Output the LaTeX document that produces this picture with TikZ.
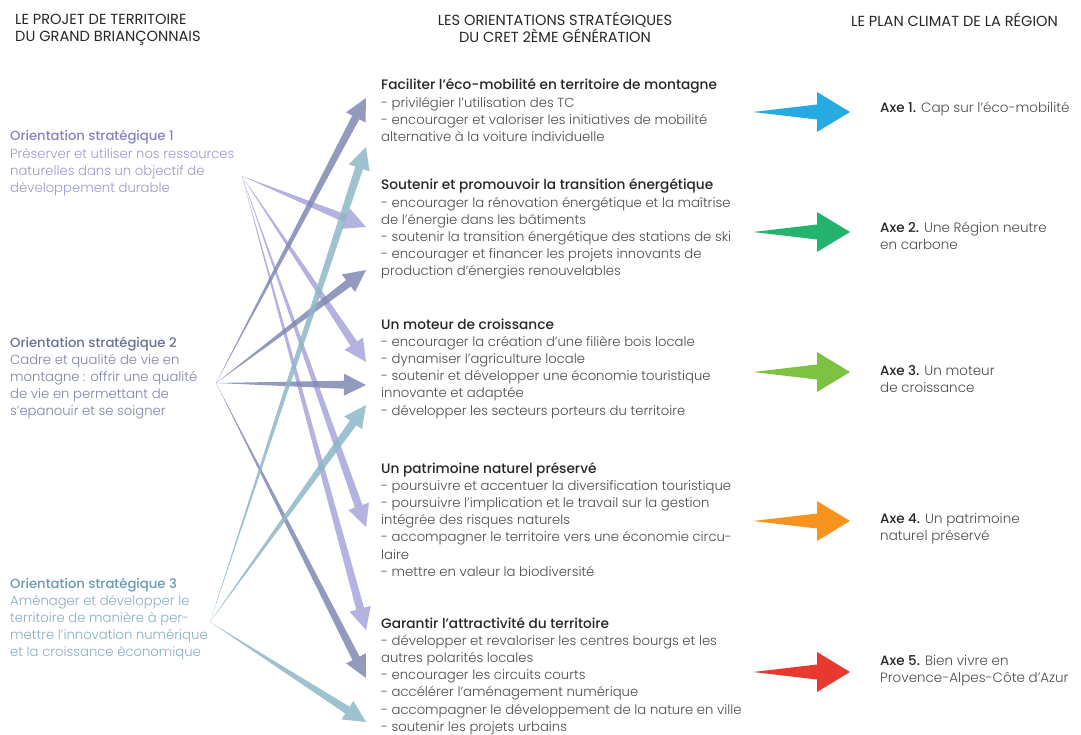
\documentclass[tikz,border=0pt]{standalone}
\usepackage{fontspec}
\setmainfont{Poppins}[UprightFont={* Light}, BoldFont={* Medium}]
\newfontfamily\entete{Poppins}
\usetikzlibrary{calc}

\definecolor{violetO}{HTML}{8682C2}
\definecolor{violetT}{HTML}{9C99CF}
\definecolor{ardoiseO}{HTML}{6A7198}
\definecolor{ardoiseT}{HTML}{7D83A6}
\definecolor{sarcelleO}{HTML}{6A9AB0}
\definecolor{sarcelleT}{HTML}{86AFC1}
\definecolor{flecheA}{HTML}{A7A4D9}
\definecolor{flecheB}{HTML}{7F88B3}
\definecolor{flecheC}{HTML}{8DB7C7}
\definecolor{axeA}{HTML}{27A9E1}
\definecolor{axeB}{HTML}{23B36E}
\definecolor{axeC}{HTML}{7DC242}
\definecolor{axeD}{HTML}{F7931E}
\definecolor{axeE}{HTML}{E8392F}

\tikzset{
  titre/.style={font=\entete\fontsize{14.6}{17}\selectfont, text=black!85, inner sep=0pt},
  bloc/.style={font=\fontsize{13.2}{17.2}\selectfont, text=black!70, align=left, inner sep=0pt, anchor=base west},
  axe/.style={bloc, font=\fontsize{13.5}{17}\selectfont},
}

% bold heading line of a block
\newcommand\tete[1]{\textcolor{black!85}{\fontsize{13.7}{17.2}\selectfont\bfseries #1}}

% tapered arrow: from, to, colour, shaft, head, head length
\newcommand\taper[6]{%
  \coordinate (hb) at ($(#2)!#6!(#1)$);
  \fill[#3] (#1) -- ($(hb)!#4!90:(#2)$) -- ($(hb)!#5!90:(#2)$) -- (#2)
    -- ($(hb)!#5!-90:(#2)$) -- ($(hb)!#4!-90:(#2)$) -- cycle;}

\begin{document}
\begin{tikzpicture}[x=1pt,y=-1pt]
\useasboundingbox (0,0) rectangle (1081,735);

% headers (base anchor = last line)
\node[titre, align=left, anchor=base west] (h1) at (15,42) {LE PROJET DE TERRITOIRE\\DU GRAND BRIANÇONNAIS};
\node[titre, align=center, anchor=base] (h2) at (555,43) {LES ORIENTATIONS STRATÉGIQUES\\DU CRET 2ÈME GÉNÉRATION};
\node[titre, anchor=base west] (h3) at (851,27) {LE PLAN CLIMAT DE LA RÉGION};

% left column
\node[bloc, text=violetT] (o1) at (10,{141+3*17.2}) {\textcolor{violetO}{\textbf{Orientation stratégique 1}}\\Préserver et utiliser nos ressources\\naturelles dans un objectif de\\développement durable};
\node[bloc, text=ardoiseT] (o2) at (10,{347+4*17.2}) {\textcolor{ardoiseO}{\textbf{Orientation stratégique 2}}\\Cadre et qualité de vie en\\montagne : offrir une qualité\\de vie en permettant de\\s’epanouir et se soigner};
\node[bloc, text=sarcelleT] (o3) at (10,{588+4*17.2}) {\textcolor{sarcelleO}{\textbf{Orientation stratégique 3}}\\Aménager et développer le\\territoire de manière à per-\\mettre l’innovation numérique\\et la croissance économique};

% middle column
\node[bloc] (s1) at (381,{90+3*17.2}) {\tete{Faciliter l’éco-mobilité en territoire de montagne}\\- privilégier l’utilisation des TC\\- encourager et valoriser les initiatives de mobilité\\alternative à la voiture individuelle};
\node[bloc] (s2) at (381,{190+5*17.2}) {\tete{Soutenir et promouvoir la transition énergétique}\\- encourager la rénovation énergétique et la maîtrise\\de l’énergie dans les bâtiments\\- soutenir la transition énergétique des stations de ski\\- encourager et financer les projets innovants de\\production d’énergies renouvelables};
\node[bloc] (s3) at (381,{329+5*17.2}) {\tete{Un moteur de croissance}\\- encourager la création d’une filière bois locale\\- dynamiser l’agriculture locale\\- soutenir et développer une économie touristique\\innovante et adaptée\\- développer les secteurs porteurs du territoire};
\node[bloc] (s4) at (381,{473+6*17.2}) {\tete{Un patrimoine naturel préservé}\\- poursuivre et accentuer la diversification touristique\\- poursuivre l’implication et le travail sur la gestion\\intégrée des risques naturels\\- accompagner le territoire vers une économie circu-\\laire\\- mettre en valeur la biodiversité};
\node[bloc] (s5) at (381,{628+6*17.2}) {\tete{Garantir l’attractivité du territoire}\\- développer et revaloriser les centres bourgs et les\\autres polarités locales\\- encourager les circuits courts\\- accélérer l’aménagement numérique\\- accompagner le développement de la nature en ville\\- soutenir les projets urbains};

% right column
\node[axe] (a1) at (880,113) {\textcolor{black!85}{\textbf{Axe 1.}} Cap sur l’éco-mobilité};
\node[axe] (a2) at (880,250) {\textcolor{black!85}{\textbf{Axe 2.}} Une Région neutre\\en carbone};
\node[axe] (a3) at (880,392) {\textcolor{black!85}{\textbf{Axe 3.}} Un moteur\\de croissance};
\node[axe] (a4) at (880,540) {\textcolor{black!85}{\textbf{Axe 4.}} Un patrimoine\\naturel préservé};
\node[axe] (a5) at (880,682) {\textcolor{black!85}{\textbf{Axe 5.}} Bien vivre en\\Provence-Alpes-Côte d’Azur};

% arrow sources and tips
\coordinate (p1) at (242,176);
\coordinate (p2) at (216,383);
\coordinate (p3) at (210,622);
\coordinate (f1) at (366,98);
\coordinate (f2) at (366,147);
\coordinate (f3) at (366,227);
\coordinate (f4) at (366,270);
\coordinate (f5) at (366,362);
\coordinate (f6) at (366,385);
\coordinate (f7) at (366,405);
\coordinate (f8) at (366,527);
\coordinate (f9) at (366,630);
\coordinate (f10) at (366,678);
\coordinate (f11) at (366,722);

\foreach \to in {f3,f5,f8,f9}
  \taper{p1}{\to}{flecheA,opacity=0.85}{4pt}{11pt}{22pt};
\foreach \to in {f1,f4,f6,f10}
  \taper{p2}{\to}{flecheB,opacity=0.85}{4pt}{11pt}{22pt};
\foreach \to in {f2,f7,f11}
  \taper{p3}{\to}{flecheC,opacity=0.85}{4pt}{11pt}{22pt};

% arrows towards the climate plan
\foreach \y/\c [count=\i] in {112/axeA,232/axeB,372/axeC,521/axeD,672/axeE}{
  \coordinate (c\i) at (753,\y);
  \coordinate (d\i) at (850,\y);
  \taper{c\i}{d\i}{\c}{7.5pt}{20pt}{33pt};
}
\end{tikzpicture}
\end{document}
